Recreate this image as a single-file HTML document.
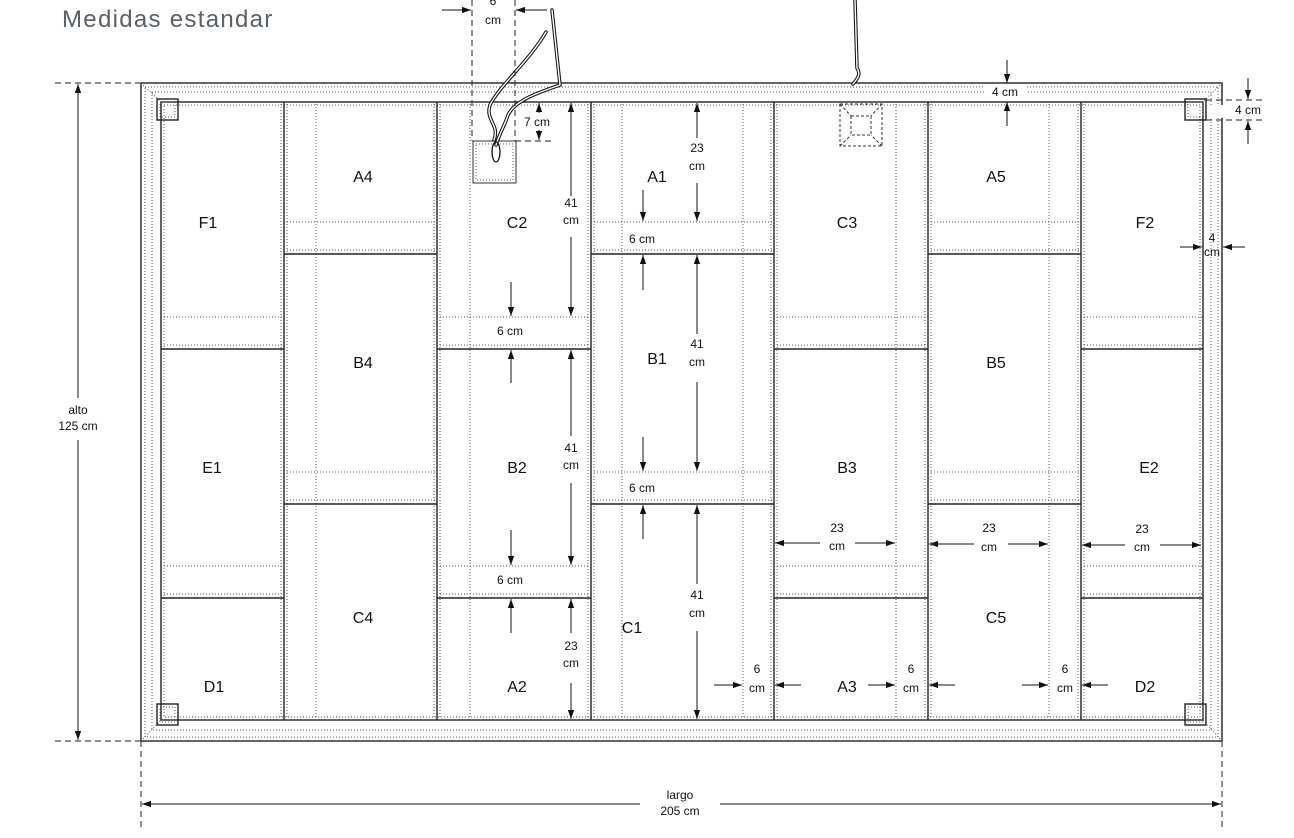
<!DOCTYPE html>
<html><head><meta charset="utf-8"><style>
html,body{margin:0;padding:0;background:#fff;}
svg{display:block;}
text{font-family:"Liberation Sans",sans-serif;fill:#111;}
.l{font-size:16px;text-anchor:middle;}
.d{font-size:12px;text-anchor:middle;}
.s{stroke:#222;stroke-width:1.4;fill:none;}
.o{stroke:#555;stroke-width:1;stroke-dasharray:1 2;fill:none;}
.a{stroke:#111;stroke-width:1;fill:none;}
.dash{stroke:#222;stroke-width:1;stroke-dasharray:6 4;fill:none;}
</style></head><body>
<svg width="1294" height="838" viewBox="0 0 1294 838" xmlns="http://www.w3.org/2000/svg">
<defs>
<marker id="ar" viewBox="0 0 10 10" refX="10" refY="5" markerWidth="9" markerHeight="9" orient="auto" markerUnits="userSpaceOnUse"><path d="M0,1.5 L10,5 L0,8.5 z" fill="#111"/></marker>
</defs>
<text x="62" y="27" style="font-size:24px;fill:#5a6068;letter-spacing:1.3px">Medidas estandar</text>

<!-- frame -->
<rect x="141" y="83" width="1081" height="658" class="s"/>
<rect x="145" y="87" width="1073" height="650" class="o"/>
<rect x="152" y="92" width="1059" height="638" class="o"/>
<rect x="161" y="102" width="1042" height="618" class="s"/>
<rect x="164" y="105" width="1036" height="612" class="o"/>
<line x1="141" y1="83" x2="161" y2="102" class="o"/><line x1="1222" y1="83" x2="1203" y2="102" class="o"/>
<line x1="141" y1="741" x2="161" y2="720" class="o"/><line x1="1222" y1="741" x2="1203" y2="720" class="o"/>

<!-- columns -->
<g>
<line x1="284" y1="102" x2="284" y2="720" class="s"/>
<line x1="437" y1="102" x2="437" y2="720" class="s"/>
<line x1="591" y1="102" x2="591" y2="720" class="s"/>
<line x1="774" y1="102" x2="774" y2="720" class="s"/>
<line x1="928" y1="102" x2="928" y2="720" class="s"/>
<line x1="1081" y1="102" x2="1081" y2="720" class="s"/>
<line x1="281" y1="104" x2="281" y2="718" class="o"/><line x1="287" y1="104" x2="287" y2="718" class="o"/>
<line x1="434" y1="104" x2="434" y2="718" class="o"/><line x1="440" y1="104" x2="440" y2="718" class="o"/>
<line x1="588" y1="104" x2="588" y2="718" class="o"/><line x1="594" y1="104" x2="594" y2="718" class="o"/>
<line x1="771" y1="104" x2="771" y2="718" class="o"/><line x1="777" y1="104" x2="777" y2="718" class="o"/>
<line x1="925" y1="104" x2="925" y2="718" class="o"/><line x1="931" y1="104" x2="931" y2="718" class="o"/>
<line x1="1078" y1="104" x2="1078" y2="718" class="o"/><line x1="1084" y1="104" x2="1084" y2="718" class="o"/>
<line x1="316" y1="104" x2="316" y2="718" class="o"/>
<line x1="470" y1="104" x2="470" y2="718" class="o"/>
<line x1="622" y1="104" x2="622" y2="718" class="o"/>
<line x1="743" y1="104" x2="743" y2="718" class="o"/>
<line x1="896" y1="104" x2="896" y2="718" class="o"/>
<line x1="1049" y1="104" x2="1049" y2="718" class="o"/>
<path d="M161 349H284M437 349H591M774 349H928M1081 349H1203M161 598H284M437 598H591M774 598H928M1081 598H1203" class="s"/>
<path d="M161 317H284M437 317H591M774 317H928M1081 317H1203M161 345H284M437 345H591M774 345H928M1081 345H1203M161 566H284M437 566H591M774 566H928M1081 566H1203M161 594H284M437 594H591M774 594H928M1081 594H1203" class="o"/>
<path d="M284 254H437M591 254H774M928 254H1081M284 504H437M591 504H774M928 504H1081" class="s"/>
<path d="M284 222H437M591 222H774M928 222H1081M284 250H437M591 250H774M928 250H1081M284 472H437M591 472H774M928 472H1081M284 500H437M591 500H774M928 500H1081" class="o"/>
</g>

<!-- corner squares -->
<g>
<rect x="157" y="99" width="21" height="21" class="s" fill="#fff"/><rect x="160" y="102" width="15" height="15" class="o"/>
<rect x="157" y="704" width="21" height="21" class="s" fill="#fff"/><rect x="160" y="707" width="15" height="15" class="o"/>
<rect x="1185" y="99" width="21" height="21" class="s" fill="#fff"/><rect x="1188" y="102" width="15" height="15" class="o"/>
<rect x="1185" y="704" width="21" height="21" class="s" fill="#fff"/><rect x="1188" y="707" width="15" height="15" class="o"/>
</g>

<!-- C2 box -->
<rect x="473" y="141" width="43" height="42" stroke="#333" fill="#fff"/>
<rect x="476" y="144" width="37" height="36" class="o"/>
<!-- C3 dashed box -->
<g stroke="#333" stroke-dasharray="3 2" fill="none">
<rect x="840" y="104" width="42" height="42"/><rect x="851" y="116" width="20" height="19"/>
<line x1="840" y1="104" x2="851" y2="116"/><line x1="882" y1="104" x2="871" y2="116"/>
<line x1="840" y1="146" x2="851" y2="135"/><line x1="882" y1="146" x2="871" y2="135"/>
</g>

<!-- cords -->
<g fill="none" stroke-linecap="round">
<path d="M546 32 C530 60 500 85 490 105 C485 120 500 125 494 140 M552 10 L560 85 C540 92 515 100 508 115 C505 125 500 132 496 145" stroke="#111" stroke-width="3.5"/>
<path d="M546 32 C530 60 500 85 490 105 C485 120 500 125 494 140 M552 10 L560 85 C540 92 515 100 508 115 C505 125 500 132 496 145" stroke="#fff" stroke-width="1.4"/>
<ellipse cx="496" cy="152" rx="4" ry="10" stroke="#111" stroke-width="1.3"/>
<path d="M855 0 L857 68 C860 73 860 76 853 84" stroke="#111" stroke-width="3.5"/>
<path d="M855 0 L857 68 C860 73 860 76 853 84" stroke="#fff" stroke-width="1.4"/>
</g>

<!-- dimension lines -->
<g class="a">
<line x1="472" y1="0" x2="472" y2="141" class="dash"/><line x1="515" y1="0" x2="515" y2="141" class="dash"/>
<line x1="442" y1="10" x2="471" y2="10" marker-end="url(#ar)"/><line x1="547" y1="10" x2="516" y2="10" marker-end="url(#ar)"/>
<line x1="515" y1="141" x2="552" y2="141" class="dash"/>
<line x1="539" y1="113" x2="539" y2="103" marker-end="url(#ar)"/><line x1="539" y1="130" x2="539" y2="140" marker-end="url(#ar)"/>
<line x1="571" y1="196" x2="571" y2="103" marker-end="url(#ar)"/><line x1="571" y1="237" x2="571" y2="316" marker-end="url(#ar)"/>
<line x1="511" y1="282" x2="511" y2="316" marker-end="url(#ar)"/><line x1="511" y1="383" x2="511" y2="350" marker-end="url(#ar)"/>
<line x1="571" y1="436" x2="571" y2="350" marker-end="url(#ar)"/><line x1="571" y1="483" x2="571" y2="565" marker-end="url(#ar)"/>
<line x1="511" y1="530" x2="511" y2="565" marker-end="url(#ar)"/><line x1="511" y1="633" x2="511" y2="599" marker-end="url(#ar)"/>
<line x1="571" y1="633" x2="571" y2="599" marker-end="url(#ar)"/><line x1="571" y1="683" x2="571" y2="719" marker-end="url(#ar)"/>
<line x1="697" y1="138" x2="697" y2="103" marker-end="url(#ar)"/><line x1="697" y1="183" x2="697" y2="221" marker-end="url(#ar)"/>
<line x1="643" y1="190" x2="643" y2="221" marker-end="url(#ar)"/><line x1="643" y1="290" x2="643" y2="255" marker-end="url(#ar)"/>
<line x1="697" y1="334" x2="697" y2="255" marker-end="url(#ar)"/><line x1="697" y1="382" x2="697" y2="471" marker-end="url(#ar)"/>
<line x1="643" y1="437" x2="643" y2="471" marker-end="url(#ar)"/><line x1="643" y1="539" x2="643" y2="505" marker-end="url(#ar)"/>
<line x1="697" y1="584" x2="697" y2="505" marker-end="url(#ar)"/><line x1="697" y1="631" x2="697" y2="719" marker-end="url(#ar)"/>
<line x1="1007" y1="60" x2="1007" y2="83" marker-end="url(#ar)"/><line x1="1007" y1="126" x2="1007" y2="102" marker-end="url(#ar)"/>
<line x1="1206" y1="100" x2="1266" y2="100" class="dash"/><line x1="1206" y1="120" x2="1266" y2="120" class="dash"/>
<line x1="1248" y1="78" x2="1248" y2="99" marker-end="url(#ar)"/><line x1="1248" y1="144" x2="1248" y2="121" marker-end="url(#ar)"/>
<line x1="1180" y1="247" x2="1202" y2="247" marker-end="url(#ar)"/><line x1="1245" y1="247" x2="1223" y2="247" marker-end="url(#ar)"/>
<line x1="820" y1="543" x2="775" y2="543" marker-end="url(#ar)"/><line x1="855" y1="543" x2="895" y2="543" marker-end="url(#ar)"/>
<line x1="974" y1="544" x2="929" y2="544" marker-end="url(#ar)"/><line x1="1008" y1="544" x2="1048" y2="544" marker-end="url(#ar)"/>
<line x1="1125" y1="545" x2="1082" y2="545" marker-end="url(#ar)"/><line x1="1160" y1="545" x2="1201" y2="545" marker-end="url(#ar)"/>
<line x1="714" y1="685" x2="742" y2="685" marker-end="url(#ar)"/><line x1="801" y1="685" x2="775" y2="685" marker-end="url(#ar)"/>
<line x1="868" y1="685" x2="895" y2="685" marker-end="url(#ar)"/><line x1="955" y1="685" x2="929" y2="685" marker-end="url(#ar)"/>
<line x1="1022" y1="685" x2="1048" y2="685" marker-end="url(#ar)"/><line x1="1108" y1="685" x2="1082" y2="685" marker-end="url(#ar)"/>
<line x1="55" y1="83" x2="141" y2="83" class="dash"/><line x1="55" y1="741" x2="141" y2="741" class="dash"/>
<line x1="78" y1="398" x2="78" y2="84" marker-end="url(#ar)"/><line x1="78" y1="440" x2="78" y2="740" marker-end="url(#ar)"/>
<line x1="141" y1="741" x2="141" y2="828" class="dash"/><line x1="1222" y1="741" x2="1222" y2="828" class="dash"/>
<line x1="640" y1="804" x2="142" y2="804" marker-end="url(#ar)"/><line x1="720" y1="804" x2="1221" y2="804" marker-end="url(#ar)"/>
</g>

<rect x="985" y="86" width="42" height="13" fill="#fff"/>
<rect x="1210" y="105" width="30" height="13" fill="#fff"/>

<g class="d">
<text x="493" y="5">6</text><text x="493" y="24">cm</text>
<text x="537" y="126">7 cm</text>
<text x="571" y="207">41</text><text x="571" y="224">cm</text>
<text x="510" y="335">6 cm</text>
<text x="571" y="452">41</text><text x="571" y="469">cm</text>
<text x="510" y="584">6 cm</text>
<text x="571" y="650">23</text><text x="571" y="667">cm</text>
<text x="697" y="152">23</text><text x="697" y="170">cm</text>
<text x="642" y="243">6 cm</text>
<text x="697" y="348">41</text><text x="697" y="366">cm</text>
<text x="642" y="492">6 cm</text>
<text x="697" y="599">41</text><text x="697" y="617">cm</text>
<text x="1005" y="96">4 cm</text>
<text x="1248" y="114">4 cm</text>
<text x="1212" y="242">4</text><text x="1212" y="256">cm</text>
<text x="837" y="532">23</text><text x="837" y="550">cm</text>
<text x="989" y="532">23</text><text x="989" y="551">cm</text>
<text x="1142" y="533">23</text><text x="1142" y="551">cm</text>
<text x="757" y="673">6</text><text x="757" y="692">cm</text>
<text x="911" y="673">6</text><text x="911" y="692">cm</text>
<text x="1065" y="673">6</text><text x="1065" y="692">cm</text>
<text x="78" y="414">alto</text><text x="78" y="430">125 cm</text>
<text x="680" y="799">largo</text><text x="680" y="815">205 cm</text>
</g>

<g class="l">
<text x="208" y="228">F1</text><text x="363" y="182">A4</text><text x="517" y="228">C2</text>
<text x="657" y="182">A1</text><text x="847" y="228">C3</text><text x="996" y="182">A5</text>
<text x="1145" y="228">F2</text>
<text x="363" y="368">B4</text><text x="657" y="364">B1</text><text x="996" y="368">B5</text>
<text x="212" y="473">E1</text><text x="517" y="473">B2</text><text x="847" y="473">B3</text><text x="1149" y="473">E2</text>
<text x="363" y="623">C4</text><text x="632" y="633">C1</text><text x="996" y="623">C5</text>
<text x="214" y="692">D1</text><text x="517" y="692">A2</text><text x="847" y="692">A3</text><text x="1145" y="692">D2</text>
</g>
</svg>
</body></html>
